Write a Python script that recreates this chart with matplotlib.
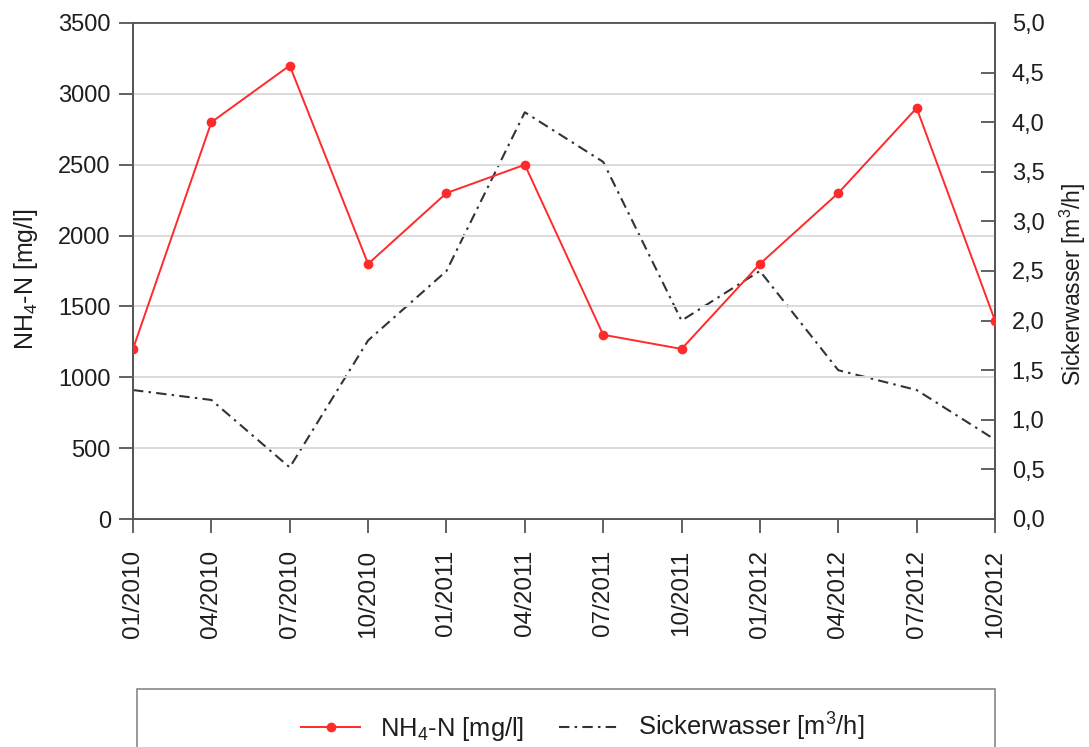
import matplotlib
matplotlib.use("Agg")
import matplotlib.pyplot as plt
from matplotlib.patches import Rectangle
from matplotlib.lines import Line2D

# ---- data ----
dates = ["01/2010", "04/2010", "07/2010", "10/2010", "01/2011", "04/2011",
         "07/2011", "10/2011", "01/2012", "04/2012", "07/2012", "10/2012"]
nh4n = [1200, 2800, 3200, 1800, 2300, 2500, 1300, 1200, 1800, 2300, 2900, 1400]
sickerwasser = [1.30, 1.20, 0.52, 1.80, 2.50, 4.10, 3.60, 2.00, 2.50, 1.50, 1.30, 0.80]
left_ticks = [0, 500, 1000, 1500, 2000, 2500, 3000, 3500]
right_ticks = [0.0, 0.5, 1.0, 1.5, 2.0, 2.5, 3.0, 3.5, 4.0, 4.5, 5.0]
right_ticklabels = ["0,0", "0,5", "1,0", "1,5", "2,0", "2,5", "3,0", "3,5", "4,0", "4,5", "5,0"]
label_left = "NH$_4$-N [mg/l]"
label_right = "Sickerwasser [m$^3$/h]"

plt.rcParams['font.family'] = ['Liberation Sans', 'DejaVu Sans']
plt.rcParams['mathtext.fontset'] = 'custom'
plt.rcParams['mathtext.rm'] = 'Liberation Sans'
plt.rcParams['mathtext.it'] = 'Liberation Sans'
plt.rcParams['mathtext.bf'] = 'Liberation Sans:bold'

W, H = 1089, 747
fig = plt.figure(figsize=(W / 100, H / 100), dpi=100)
ax = fig.add_axes([133 / W, 1 - 519 / H, (995 - 133) / W, (519 - 23) / H])
ax2 = ax.twinx()

txt = '#1e1e1e'
spine_c = '#555555'
red = '#ff2a2a'
lstyle = (0, (5, 2.5, 1.2, 2.5))

x = list(range(len(dates)))
ax.set_xlim(0, len(dates) - 1)
ax.set_ylim(0, 3500)
ax2.set_ylim(0, 5.0)

ax.set_yticks(left_ticks)
ax.set_yticklabels([str(t) for t in left_ticks])
ax.yaxis.grid(True, color='#dadada', linewidth=1.4)
ax.set_axisbelow(True)
ax.set_xticks(x)
ax.set_xticklabels(dates, rotation=90)

ax2.set_yticks(right_ticks)
ax2.set_yticklabels(right_ticklabels)

for a in (ax, ax2):
    for s in a.spines.values():
        s.set_color(spine_c)
        s.set_linewidth(1.3)

ax.tick_params(axis='y', direction='out', length=10, width=1.3, color=spine_c,
               labelsize=17, labelcolor=txt, pad=6)
ax.tick_params(axis='x', direction='out', length=10, width=1.3, color=spine_c,
               labelsize=17.5, labelcolor=txt, pad=12)
ax2.tick_params(axis='y', direction='in', length=10, width=1.3, color=spine_c,
                labelsize=17, labelcolor=txt, pad=12)

ax2.plot(x, sickerwasser, color='#333333', linewidth=1.5,
         linestyle=lstyle, zorder=2)
ax.plot(x, nh4n, color=red, linewidth=1.4, marker='o', markersize=7,
        markeredgewidth=0, zorder=3)
ax.set_zorder(ax2.get_zorder() + 1)
ax.patch.set_visible(False)

ax.set_ylabel(label_left, fontsize=18, color=txt)
ax2.set_ylabel(label_right, fontsize=16.5, color=txt)
for a, (lx, ly) in ((ax, (26, 279)), (ax2, (1073, 284))):
    lab = a.yaxis.label
    lab.set_rotation_mode('default')
    lab.set_va('center')
    lab.set_ha('center')
    a.yaxis.set_label_coords((lx - 133) / (995 - 133), (519 - ly) / (519 - 23))

# legend box (cut off at the bottom)
fig.patches.append(Rectangle((137 / W, -0.05), (995 - 137) / W, 0.05 + (1 - 689 / H),
                             transform=fig.transFigure, fill=False,
                             edgecolor='#888888', linewidth=1.2))
handles = [Line2D([], [], color=red, linewidth=1.4, marker='o', markersize=7,
                  markeredgewidth=0),
           Line2D([], [], color='#333333', linewidth=1.5, linestyle=lstyle)]
fig.legend(handles, [label_left, label_right], loc='center',
           bbox_to_anchor=(583 / W, 1 - 727 / H), ncol=2, frameon=False,
           fontsize=18.4, handlelength=2.3, columnspacing=1.35, handletextpad=0.8,
           labelcolor=txt)

fig.savefig("out.png", dpi=100)
